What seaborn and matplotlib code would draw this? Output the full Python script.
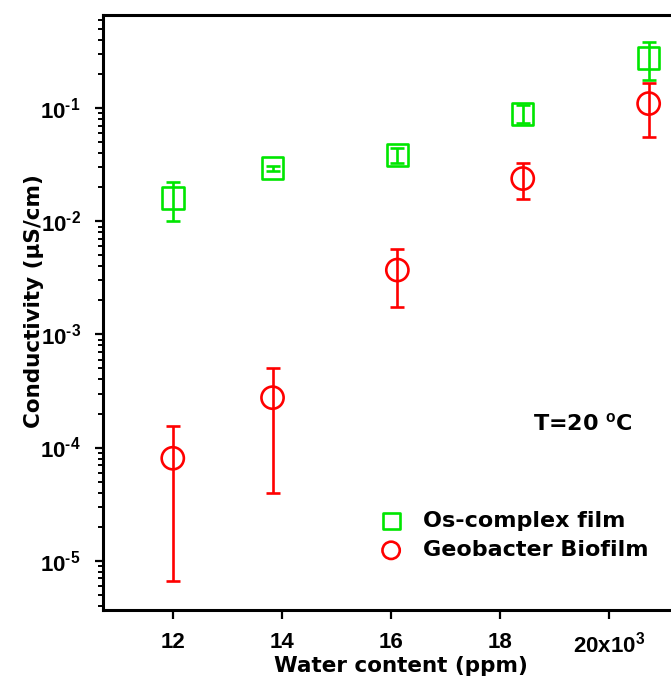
import numpy as np
import pandas as pd
import matplotlib
matplotlib.use("Agg")
import matplotlib.pyplot as plt
import matplotlib.ticker as mticker
import seaborn as sns

# Water content (x10^3 ppm) at which both films were measured
water = [12.0, 13.83, 16.12, 18.42, 20.73]

# Os-complex film conductivity (uS/cm) with lower / upper error limits
os_sigma = [0.0161, 0.0295, 0.0385, 0.0891, 0.279]
os_low = [0.0101, 0.0278, 0.0329, 0.0741, 0.177]
os_high = [0.0222, 0.0307, 0.0441, 0.106, 0.385]

# Geobacter biofilm conductivity (uS/cm) with lower / upper error limits
geo_sigma = [8.04e-5, 2.76e-4, 3.71e-3, 0.0239, 0.110]
geo_low = [6.65e-6, 4.0e-5, 1.74e-3, 0.0159, 0.0558]
geo_high = [1.55e-4, 5.1e-4, 5.70e-3, 0.0328, 0.169]

x_ticks = [12, 14, 16, 18, 20]
x_tick_labels = ["12", "14", "16", "18", r"20x10$^{3}$"]
y_ticks = [1e-5, 1e-4, 1e-3, 1e-2, 1e-1]
y_tick_labels = [r"10$^{\text{-5}}$", r"10$^{\text{-4}}$", r"10$^{\text{-3}}$",
                 r"10$^{\text{-2}}$", r"10$^{\text{-1}}$"]

series = [
    ("Os-complex film", os_sigma, os_low, os_high, "#00e600", "s", 240),
    ("Geobacter Biofilm", geo_sigma, geo_low, geo_high, "#ff0000", "o", 255),
]

sns.set_style("ticks")
plt.rcParams["font.family"] = ["DejaVu Sans"]
plt.rcParams["font.weight"] = "bold"
plt.rcParams["mathtext.fontset"] = "custom"
plt.rcParams["mathtext.rm"] = "Liberation Sans:bold"
plt.rcParams["mathtext.bf"] = "Liberation Sans:bold"
plt.rcParams["mathtext.default"] = "bf"
for key in ("text.color", "axes.labelcolor", "xtick.color", "ytick.color"):
    plt.rcParams[key] = "black"

fig = plt.figure(figsize=(6.71, 6.80), dpi=100)
ax = fig.add_axes([103 / 671, 70 / 680, 1 - 103 / 671, 595 / 680])

for name, sig, lo, hi, col, mk, size in series:
    sig = np.asarray(sig)
    yerr = [sig - np.asarray(lo), np.asarray(hi) - sig]
    ax.errorbar(water, sig, yerr=yerr, fmt="none", ecolor=col,
                elinewidth=1.9, capsize=4.7, capthick=1.9, zorder=2)
    df = pd.DataFrame({"water": water, "sigma": sig})
    sns.scatterplot(data=df, x="water", y="sigma", ax=ax, marker=mk, s=size,
                    facecolor="none", edgecolor=col, linewidth=1.9,
                    label=name, legend=False, zorder=3)

ax.set_yscale("log")
ax.set_xlim(10.72, 21.14)
ax.set_ylim(3.66e-6, 0.668)

ax.xaxis.set_major_locator(mticker.FixedLocator(x_ticks))
ax.xaxis.set_major_formatter(mticker.FixedFormatter(x_tick_labels))
ax.xaxis.set_minor_locator(mticker.NullLocator())
ax.yaxis.set_major_locator(mticker.FixedLocator(y_ticks))
ax.yaxis.set_major_formatter(mticker.FixedFormatter(y_tick_labels))
ax.yaxis.set_minor_locator(mticker.LogLocator(base=10, subs=np.arange(2, 10)))
ax.yaxis.set_minor_formatter(mticker.NullFormatter())

ax.tick_params(axis="both", which="major", direction="out", width=1.6,
               labelsize=16, colors="black")
ax.tick_params(axis="x", which="major", length=6.5, pad=9)
ax.tick_params(axis="y", which="major", length=6, pad=10)
ax.tick_params(axis="y", which="minor", direction="out", length=3.5, width=1.4)
for lab in ax.get_xticklabels() + ax.get_yticklabels():
    lab.set_fontfamily("Liberation Sans")
    lab.set_fontweight("bold")

for side in ("left", "bottom", "top"):
    ax.spines[side].set_linewidth(2.2)
    ax.spines[side].set_color("black")
ax.spines["right"].set_visible(False)

ax.set_xlabel("Water content (ppm)", fontsize=15.5, fontweight="bold")
ax.set_ylabel("Conductivity (μS/cm)", fontsize=15.5, fontweight="bold")
ax.xaxis.set_label_coords(0.525, -0.077)
ax.yaxis.set_label_coords(-0.104, 0.52)

ax.text(533, 680 - 423, r"T=20 $^{o}$C", transform=None, fontsize=16,
        fontweight="bold", ha="left", va="center")

leg = ax.legend(loc="center left", bbox_to_anchor=(380 / 671, 1 - 535.5 / 680),
                bbox_transform=fig.transFigure, frameon=False, fontsize=16,
                handlelength=1.0, handletextpad=0.92, labelspacing=0.42,
                borderpad=0, borderaxespad=0, markerscale=0.78)
for t in leg.get_texts():
    t.set_fontweight("bold")

fig.savefig("out.png", dpi=100)
